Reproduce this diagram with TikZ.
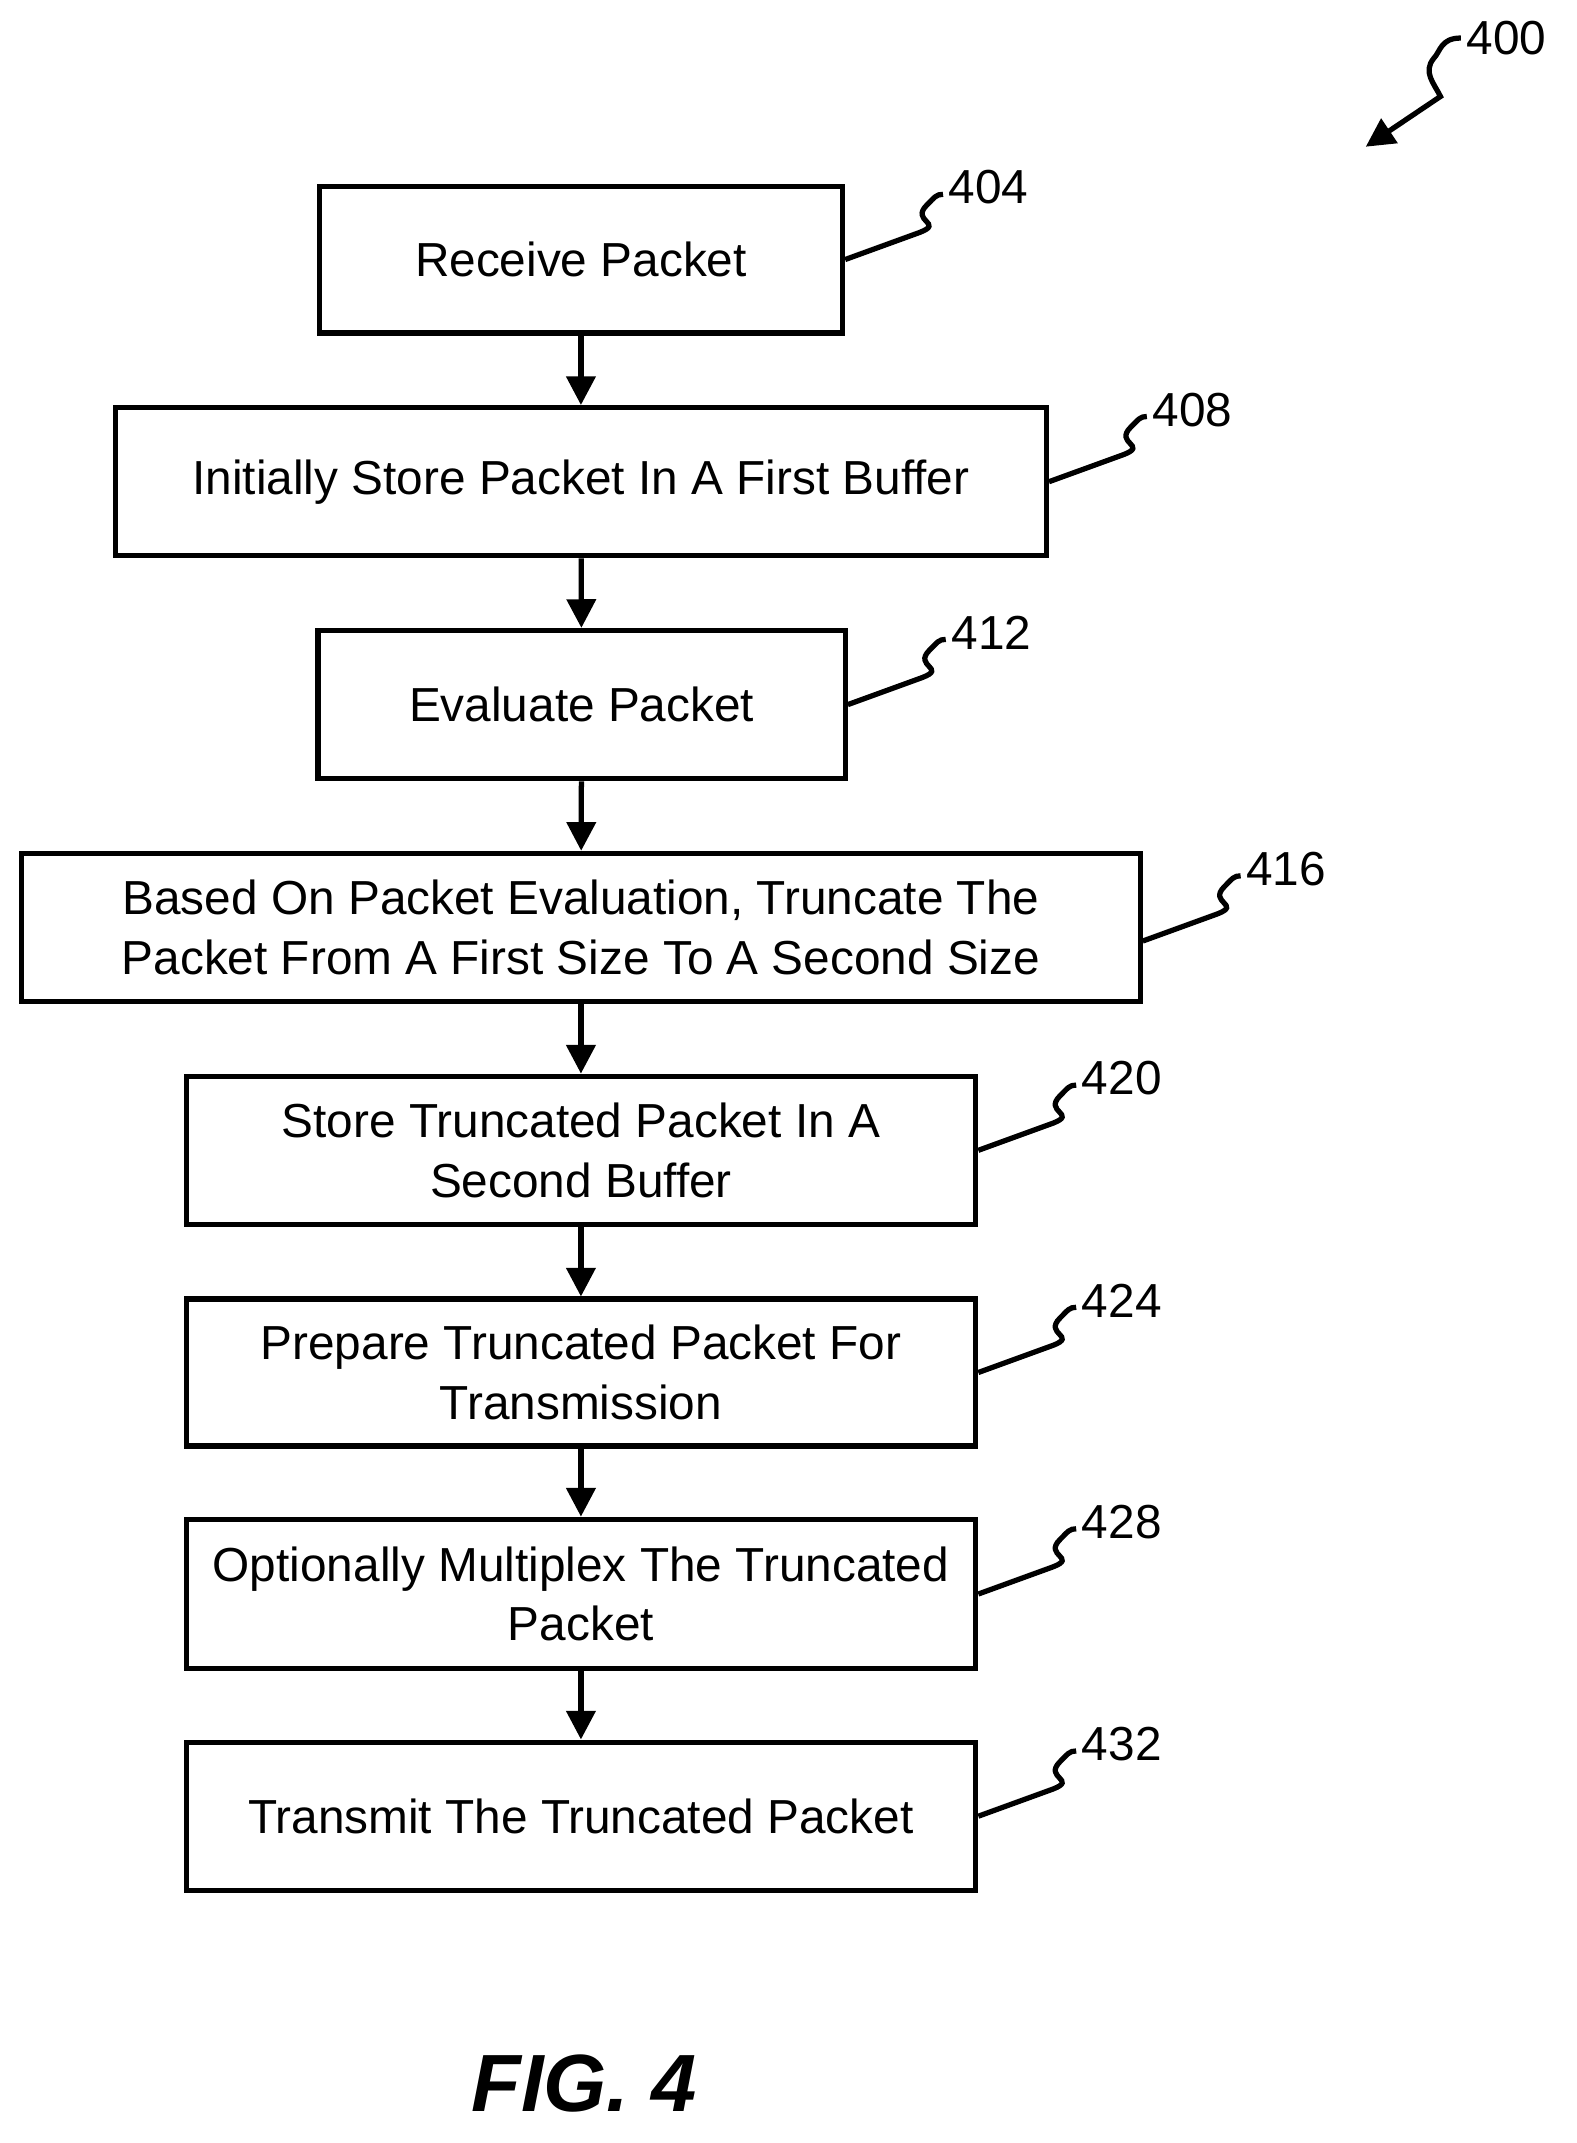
\documentclass[tikz,border=0pt]{standalone}
\usepackage{fontspec}
\setmainfont{Liberation Sans}
\usetikzlibrary{arrows.meta}
\tikzstyle{stepbox} = [rectangle, draw=black, line width=1.1pt, inner sep=0pt, align=center, font=\fontsize{10}{12.5}\selectfont]
\tikzstyle{arrow} = [line width=1.1pt,-{Triangle[length=6pt,width=6pt]}]
\tikzstyle{lead} = [line width=1.1pt]
\tikzstyle{num} = [anchor=west, inner sep=1pt, font=\fontsize{10}{12}\selectfont]

\begin{document}
\begin{tikzpicture}
\useasboundingbox (0,0) rectangle (11.6,-15.77);

\node (recv) [stepbox, minimum width=3.85cm, minimum height=1.08cm] at (4.275,-1.91) {Receive Packet};
\node (store) [stepbox, minimum width=6.85cm, minimum height=1.09cm] at (4.275,-3.545) {Initially Store Packet In A First Buffer};
\node (eval) [stepbox, minimum width=3.88cm, minimum height=1.09cm] at (4.28,-5.185) {Evaluate Packet};
\node (trunc) [stepbox, minimum width=8.23cm, minimum height=1.09cm] at (4.275,-6.825) {Based On Packet Evaluation, Truncate The\\Packet From A First Size To A Second Size};
\node (store2) [stepbox, minimum width=5.81cm, minimum height=1.09cm] at (4.275,-8.465) {Store Truncated Packet In A\\Second Buffer};
\node (prep) [stepbox, minimum width=5.81cm, minimum height=1.08cm] at (4.275,-10.1) {Prepare Truncated Packet For\\Transmission};
\node (mux) [stepbox, minimum width=5.81cm, minimum height=1.10cm] at (4.275,-11.73) {Optionally Multiplex The Truncated\\Packet};
\node (send) [stepbox, minimum width=5.81cm, minimum height=1.09cm] at (4.275,-13.365) {Transmit The Truncated Packet};

\draw [arrow] (recv) -- (store);
\draw [arrow] (store) -- (eval);
\draw [arrow] (eval) -- (trunc);
\draw [arrow] (trunc) -- (store2);
\draw [arrow] (store2) -- (prep);
\draw [arrow] (prep) -- (mux);
\draw [arrow] (mux) -- (send);

% reference numerals
\draw [lead] (recv.east) -- ++(0.55,0.2) .. controls +(0.18,0.07) and +(-0.12,-0.12) .. ++(0.05,0.2) .. controls +(0.06,0.06) and +(-0.05,0) .. ++(0.12,0.08) coordinate (l404);
\node (n404) [num] at ([yshift=0.05cm]l404) {404};
\draw [lead] (store.east) -- ++(0.55,0.2) .. controls +(0.18,0.07) and +(-0.12,-0.12) .. ++(0.05,0.2) .. controls +(0.06,0.06) and +(-0.05,0) .. ++(0.12,0.08) coordinate (l408);
\node (n408) [num] at ([yshift=0.05cm]l408) {408};
\draw [lead] (eval.east) -- ++(0.55,0.2) .. controls +(0.18,0.07) and +(-0.12,-0.12) .. ++(0.05,0.2) .. controls +(0.06,0.06) and +(-0.05,0) .. ++(0.12,0.08) coordinate (l412);
\node (n412) [num] at ([yshift=0.05cm]l412) {412};
\draw [lead] ([yshift=-0.1cm]trunc.east) -- ++(0.55,0.2) .. controls +(0.18,0.07) and +(-0.12,-0.12) .. ++(0.05,0.2) .. controls +(0.06,0.06) and +(-0.05,0) .. ++(0.12,0.08) coordinate (l416);
\node (n416) [num] at ([yshift=0.05cm]l416) {416};
\draw [lead] (store2.east) -- ++(0.55,0.2) .. controls +(0.18,0.07) and +(-0.12,-0.12) .. ++(0.05,0.2) .. controls +(0.06,0.06) and +(-0.05,0) .. ++(0.12,0.08) coordinate (l420);
\node (n420) [num] at ([yshift=0.05cm]l420) {420};
\draw [lead] (prep.east) -- ++(0.55,0.2) .. controls +(0.18,0.07) and +(-0.12,-0.12) .. ++(0.05,0.2) .. controls +(0.06,0.06) and +(-0.05,0) .. ++(0.12,0.08) coordinate (l424);
\node (n424) [num] at ([yshift=0.05cm]l424) {424};
\draw [lead] (mux.east) -- ++(0.55,0.2) .. controls +(0.18,0.07) and +(-0.12,-0.12) .. ++(0.05,0.2) .. controls +(0.06,0.06) and +(-0.05,0) .. ++(0.12,0.08) coordinate (l428);
\node (n428) [num] at ([yshift=0.05cm]l428) {428};
\draw [lead] (send.east) -- ++(0.55,0.2) .. controls +(0.18,0.07) and +(-0.12,-0.12) .. ++(0.05,0.2) .. controls +(0.06,0.06) and +(-0.05,0) .. ++(0.12,0.08) coordinate (l432);
\node (n432) [num] at ([yshift=0.05cm]l432) {432};

% figure numeral
\coordinate (tip400) at (10.05,-1.08);
\node (n400) [num] at (10.75,-0.28) {400};
\draw [arrow] (n400.west) .. controls +(-0.15,0) and +(0.05,0.05) .. ++(-0.2,-0.15) .. controls +(-0.08,-0.1) and +(-0.05,0.1) .. ++(0.05,-0.28) -- (tip400);

\node (fig) [font=\fontsize{17}{20}\selectfont\bfseries\itshape] at (4.3,-15.33) {FIG. 4};
\end{tikzpicture}
\end{document}
